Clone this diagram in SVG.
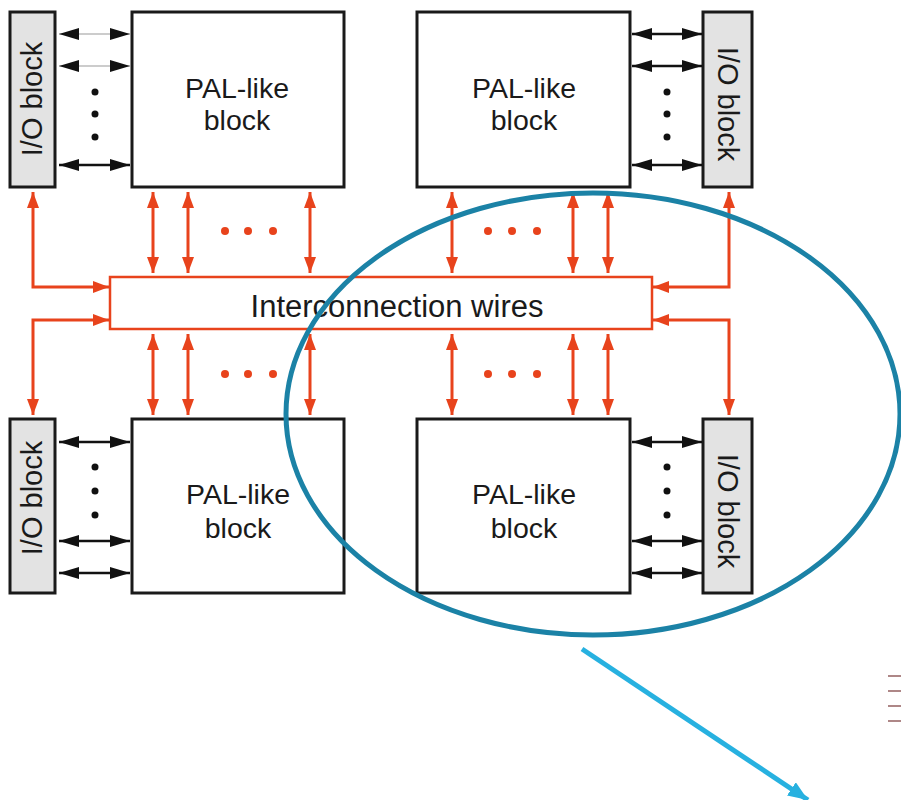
<svg xmlns="http://www.w3.org/2000/svg" width="901" height="800" viewBox="0 0 901 800">
<style>
.io{fill:#e3e3e3;stroke:#1a1a1a;stroke-width:3}
.pal{fill:#fff;stroke:#1a1a1a;stroke-width:3}
.t{font-family:"Liberation Sans",Arial,sans-serif;fill:#1a1a1a;text-anchor:middle}
.pt{font-size:28.5px}
.it{font-size:29px}
.r{fill:none;stroke:#e8431c;stroke-width:3}
.b{fill:none;stroke:#111;stroke-width:2.5}
.bt{fill:none;stroke:#999;stroke-width:1}
.rd{fill:#e8431c}
.bd{fill:#111}
</style>
<defs>
<marker id="ra" viewBox="0 0 16 12" refX="16" refY="6" markerWidth="16" markerHeight="12" markerUnits="userSpaceOnUse" orient="auto-start-reverse"><path d="M0,0 L16,6 L0,12 Z" fill="#e8431c"/></marker>
<marker id="ba" viewBox="0 0 20 12" refX="20" refY="6" markerWidth="20" markerHeight="12" markerUnits="userSpaceOnUse" orient="auto-start-reverse"><path d="M0,0 L20,6 L0,12 Z" fill="#111"/></marker>
<marker id="ca" viewBox="0 0 20 16" refX="20" refY="8" markerWidth="20" markerHeight="16" markerUnits="userSpaceOnUse" orient="auto"><path d="M0,0 L20,8 L0,16 Z" fill="#27b1e0"/></marker>
</defs>

<g id="io-tl"><rect class="io" x="10" y="12" width="45" height="175"/><text class="t it" transform="translate(42,99) rotate(-90)">I/O block</text></g>
<g id="pal-tl"><rect class="pal" x="132" y="12" width="212" height="175"/><text class="t pt" x="237" y="98">PAL-like</text><text class="t pt" x="237" y="130">block</text></g>
<g id="pal-tr"><rect class="pal" x="417" y="12" width="213" height="175"/><text class="t pt" x="524" y="98">PAL-like</text><text class="t pt" x="524" y="130">block</text></g>
<g id="io-tr"><rect class="io" x="703" y="12" width="49" height="175"/><text class="t it" transform="translate(718,104) rotate(90)">I/O block</text></g>

<g id="wires"><rect x="110" y="277" width="542" height="52" fill="#fff" stroke="#e8431c" stroke-width="2.5"/><text class="t" x="397" y="317" style="font-size:31px">Interconnection wires</text></g>

<g id="io-bl"><rect class="io" x="10" y="419" width="45" height="174"/><text class="t it" transform="translate(42,498) rotate(-90)">I/O block</text></g>
<g id="pal-bl"><rect class="pal" x="132" y="419" width="212" height="174"/><text class="t pt" x="238" y="504">PAL-like</text><text class="t pt" x="238" y="538">block</text></g>
<g id="pal-br"><rect class="pal" x="417" y="419" width="213" height="174"/><text class="t pt" x="524" y="504">PAL-like</text><text class="t pt" x="524" y="538">block</text></g>
<g id="io-br"><rect class="io" x="703" y="419" width="49" height="174"/><text class="t it" transform="translate(718,511) rotate(90)">I/O block</text></g>

<g id="connectors">
<line class="bt" x1="59" y1="34" x2="130" y2="34" marker-start="url(#ba)" marker-end="url(#ba)"/>
<line class="bt" x1="59" y1="66" x2="130" y2="66" marker-start="url(#ba)" marker-end="url(#ba)"/>
<line class="b" x1="59" y1="165" x2="130" y2="165" marker-start="url(#ba)" marker-end="url(#ba)"/>
<line class="b" x1="632" y1="34" x2="702" y2="34" marker-start="url(#ba)" marker-end="url(#ba)"/>
<line class="b" x1="632" y1="66" x2="702" y2="66" marker-start="url(#ba)" marker-end="url(#ba)"/>
<line class="b" x1="632" y1="165" x2="702" y2="165" marker-start="url(#ba)" marker-end="url(#ba)"/>
<line class="b" x1="59" y1="442" x2="130" y2="442" marker-start="url(#ba)" marker-end="url(#ba)"/>
<line class="b" x1="59" y1="541" x2="130" y2="541" marker-start="url(#ba)" marker-end="url(#ba)"/>
<line class="b" x1="59" y1="573" x2="130" y2="573" marker-start="url(#ba)" marker-end="url(#ba)"/>
<line class="b" x1="632" y1="442" x2="702" y2="442" marker-start="url(#ba)" marker-end="url(#ba)"/>
<line class="b" x1="632" y1="541" x2="702" y2="541" marker-start="url(#ba)" marker-end="url(#ba)"/>
<line class="b" x1="632" y1="573" x2="702" y2="573" marker-start="url(#ba)" marker-end="url(#ba)"/>

<line class="r" x1="153" y1="192" x2="153" y2="273" marker-start="url(#ra)" marker-end="url(#ra)"/>
<line class="r" x1="188" y1="192" x2="188" y2="273" marker-start="url(#ra)" marker-end="url(#ra)"/>
<line class="r" x1="310" y1="192" x2="310" y2="273" marker-start="url(#ra)" marker-end="url(#ra)"/>
<line class="r" x1="452" y1="192" x2="452" y2="273" marker-start="url(#ra)" marker-end="url(#ra)"/>
<line class="r" x1="573" y1="192" x2="573" y2="273" marker-start="url(#ra)" marker-end="url(#ra)"/>
<line class="r" x1="608" y1="192" x2="608" y2="273" marker-start="url(#ra)" marker-end="url(#ra)"/>
<line class="r" x1="153" y1="334" x2="153" y2="415" marker-start="url(#ra)" marker-end="url(#ra)"/>
<line class="r" x1="188" y1="334" x2="188" y2="415" marker-start="url(#ra)" marker-end="url(#ra)"/>
<line class="r" x1="310" y1="334" x2="310" y2="415" marker-start="url(#ra)" marker-end="url(#ra)"/>
<line class="r" x1="452" y1="334" x2="452" y2="415" marker-start="url(#ra)" marker-end="url(#ra)"/>
<line class="r" x1="573" y1="334" x2="573" y2="415" marker-start="url(#ra)" marker-end="url(#ra)"/>
<line class="r" x1="608" y1="334" x2="608" y2="415" marker-start="url(#ra)" marker-end="url(#ra)"/>

<path class="r" d="M33,192 V287 H109" marker-start="url(#ra)" marker-end="url(#ra)"/>
<path class="r" d="M109,320 H33 V415" marker-start="url(#ra)" marker-end="url(#ra)"/>
<path class="r" d="M729,192 V287 H653" marker-start="url(#ra)" marker-end="url(#ra)"/>
<path class="r" d="M653,320 H729 V415" marker-start="url(#ra)" marker-end="url(#ra)"/>
</g>

<g id="dots">
<circle class="bd" cx="95" cy="92" r="3.5"/><circle class="bd" cx="95" cy="114" r="3.5"/><circle class="bd" cx="95" cy="137" r="3.5"/>
<circle class="bd" cx="667" cy="92" r="3.5"/><circle class="bd" cx="667" cy="114" r="3.5"/><circle class="bd" cx="667" cy="137" r="3.5"/>
<circle class="bd" cx="95" cy="467" r="3.5"/><circle class="bd" cx="95" cy="491" r="3.5"/><circle class="bd" cx="95" cy="515" r="3.5"/>
<circle class="bd" cx="667" cy="467" r="3.5"/><circle class="bd" cx="667" cy="491" r="3.5"/><circle class="bd" cx="667" cy="515" r="3.5"/>
<circle class="rd" cx="225" cy="231" r="4"/><circle class="rd" cx="248" cy="231" r="4"/><circle class="rd" cx="273" cy="231" r="4"/>
<circle class="rd" cx="488" cy="231" r="4"/><circle class="rd" cx="512" cy="231" r="4"/><circle class="rd" cx="537" cy="231" r="4"/>
<circle class="rd" cx="225" cy="374" r="4"/><circle class="rd" cx="248" cy="374" r="4"/><circle class="rd" cx="273" cy="374" r="4"/>
<circle class="rd" cx="488" cy="374" r="4"/><circle class="rd" cx="512" cy="374" r="4"/><circle class="rd" cx="537" cy="374" r="4"/>
</g>

<g id="highlight">
<ellipse cx="593" cy="414" rx="307" ry="221" fill="none" stroke="#1b82a6" stroke-width="5"/>
<line x1="582" y1="649" x2="808" y2="800" stroke="#27b1e0" stroke-width="5" marker-end="url(#ca)"/>
</g>

<g id="fragment" stroke="#9a6a6a" stroke-width="2" opacity="0.8">
<line x1="888" y1="676" x2="901" y2="676"/>
<line x1="888" y1="691" x2="901" y2="691"/>
<line x1="888" y1="706" x2="901" y2="706"/>
<line x1="888" y1="721" x2="901" y2="721"/>
</g>
</svg>
